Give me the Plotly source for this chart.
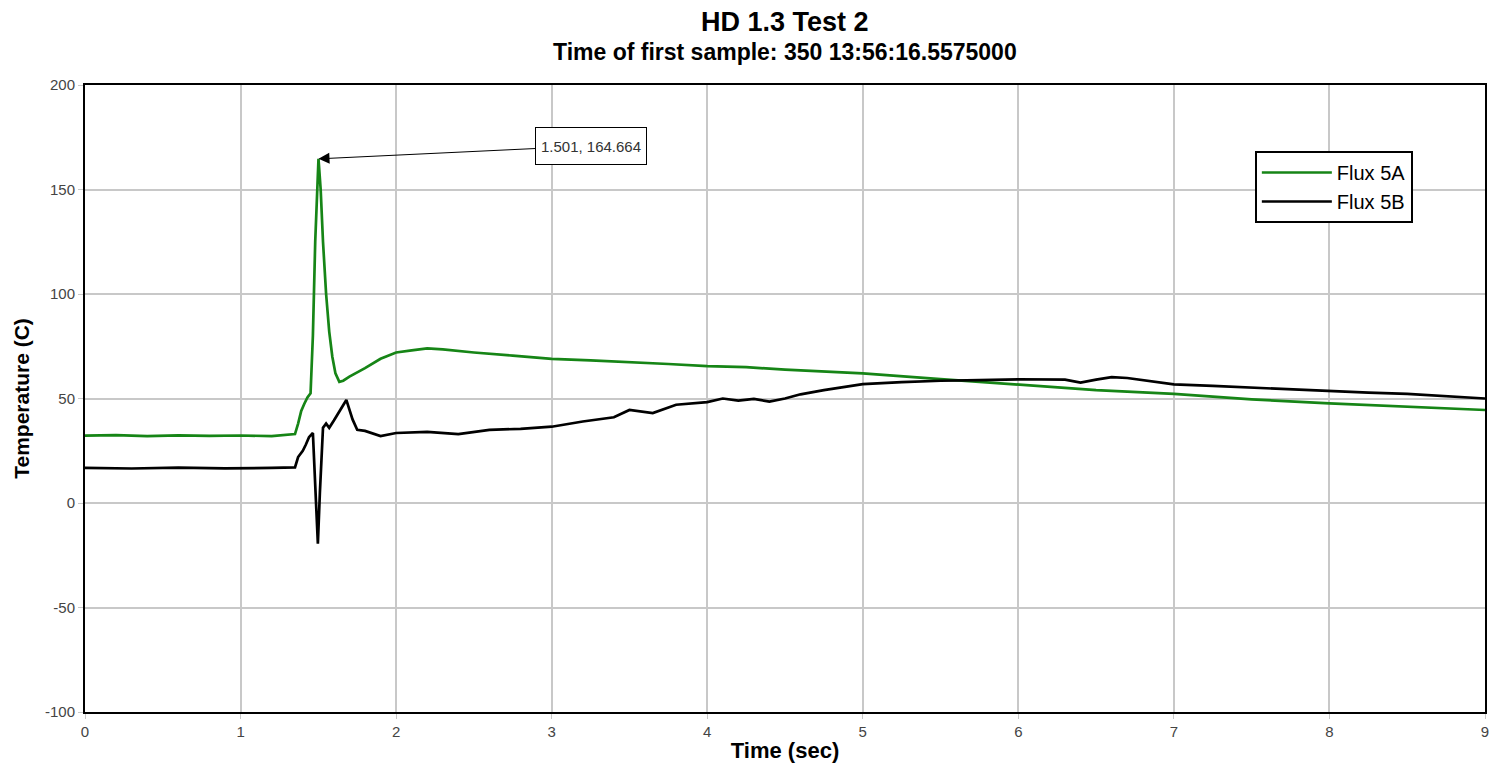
import plotly.graph_objects as go

# Flux 5A readings (time in sec, temperature in C)
time_5a = [0.0, 0.2, 0.4, 0.6, 0.8, 1.0, 1.2, 1.35, 1.37, 1.39, 1.41, 1.43, 1.45,
           1.465, 1.48, 1.501, 1.515, 1.53, 1.55, 1.57, 1.59, 1.61, 1.635, 1.66,
           1.70, 1.75, 1.8, 1.9, 2.0, 2.1, 2.2, 2.3, 2.5, 2.75, 3.0, 3.25, 3.5,
           3.75, 4.0, 4.25, 4.5, 5.0, 5.5, 6.0, 6.5, 7.0, 7.5, 8.0, 8.5, 9.0]
temp_5a = [32.2, 32.5, 32.0, 32.4, 32.1, 32.3, 32.0, 33.0, 38.0, 44.0, 47.5, 50.5, 52.5,
           80.0, 125.0, 164.664, 150.0, 125.0, 100.0, 82.0, 70.0, 62.0, 58.0, 58.5,
           60.5, 62.5, 64.5, 69.0, 72.0, 73.0, 74.0, 73.5, 72.0, 70.5, 69.0, 68.2, 67.5,
           66.5, 65.5, 65.0, 63.8, 62.0, 59.3, 56.5, 54.0, 52.2, 49.6, 47.7, 46.1, 44.5]

# Flux 5B readings
time_5b = [0.0, 0.3, 0.6, 0.9, 1.2, 1.35, 1.37, 1.40, 1.42, 1.44, 1.465, 1.48, 1.497,
           1.51, 1.53, 1.55, 1.57, 1.60, 1.63, 1.68, 1.72, 1.75, 1.8, 1.9, 2.0, 2.2,
           2.4, 2.6, 2.8, 3.0, 3.2, 3.4, 3.5, 3.65, 3.8, 4.0, 4.1, 4.2, 4.3, 4.4, 4.5,
           4.6, 4.75, 5.0, 5.25, 5.5, 5.75, 6.0, 6.3, 6.4, 6.5, 6.6, 6.7, 6.85, 7.0,
           7.25, 7.5, 7.75, 8.0, 8.25, 8.5, 8.75, 9.0]
temp_5b = [16.8, 16.5, 16.9, 16.6, 16.8, 17.0, 22.0, 25.0, 28.0, 31.5, 33.5, 10.0, -19.5,
           5.0, 36.0, 38.0, 36.0, 39.5, 43.0, 49.3, 40.0, 35.0, 34.5, 32.0, 33.5, 34.0,
           33.0, 35.0, 35.5, 36.5, 39.0, 41.0, 44.5, 43.0, 47.0, 48.3, 50.0, 49.0, 49.8, 48.5, 50.0,
           52.0, 54.0, 56.9, 57.8, 58.5, 58.8, 59.2, 59.0, 57.6, 59.0, 60.2, 59.8, 58.3, 56.8,
           56.0, 55.2, 54.3, 53.3, 52.8, 52.2, 51.2, 50.0]

# Marked peak
peak_t = 1.501
peak_v = 164.664

x_ticks = [0, 1, 2, 3, 4, 5, 6, 7, 8, 9]
y_ticks = [-100, -50, 0, 50, 100, 150, 200]
y_labels = ["-100", "-50", "0", "50", "100", "150", "200"]

font = "Liberation Sans, Arial, sans-serif"

fig = go.Figure()
fig.add_trace(go.Scatter(x=time_5a, y=temp_5a, mode="lines", name="Flux 5A",
                         line=dict(color="#168516", width=2.7)))
fig.add_trace(go.Scatter(x=time_5b, y=temp_5b, mode="lines", name="Flux 5B",
                         line=dict(color="black", width=2.7)))

axis_common = dict(showgrid=True, gridcolor="#c8c8c8", gridwidth=2,
                   showline=True, linecolor="black", linewidth=2, mirror=True,
                   ticks="outside", ticklen=5, tickcolor="#c8c8c8", zeroline=False,
                   tickfont=dict(family=font, size=15, color="#444"))

fig.update_xaxes(range=[0, 9], tickvals=x_ticks, **axis_common,
                 title=dict(text="<b>Time (sec)</b>", font=dict(family=font, size=22, color="black"),
                            standoff=4))
fig.update_yaxes(range=[-100, 200], tickvals=y_ticks, ticktext=y_labels, **axis_common,
                 title=dict(text="<b>Temperature (C)</b>", font=dict(family=font, size=21, color="black"),
                            standoff=10))

# Titles
fig.add_annotation(text="<b>HD 1.3 Test 2</b>", xref="paper", yref="paper", x=0.5, y=1,
                   xanchor="center", yanchor="bottom", yshift=46, showarrow=False,
                   font=dict(family=font, size=27, color="black"))
fig.add_annotation(text="<b>Time of first sample: 350 13:56:16.5575000</b>", xref="paper", yref="paper",
                   x=0.5, y=1, xanchor="center", yanchor="bottom", yshift=18, showarrow=False,
                   font=dict(family=font, size=23, color="black"))

# Peak callout
fig.add_annotation(x=peak_t, y=peak_v, text=f"{peak_t}, {peak_v}", showarrow=True,
                   ax=273, ay=-13, arrowhead=2, arrowsize=2.2, arrowwidth=1, arrowcolor="black",
                   width=104, height=30, borderpad=3,
                   bordercolor="black", borderwidth=1, bgcolor="white",
                   font=dict(family=font, size=15, color="#333"))

# page body has an 8px margin, so the figure is sized/offset to land on the same pixels
fig.update_layout(width=1493, height=765,
                  margin=dict(l=75, r=13, t=77, b=61),
                  plot_bgcolor="white", paper_bgcolor="white",
                  showlegend=True,
                  legend=dict(x=0.8356, y=0.8947, xanchor="left", yanchor="top",
                              bordercolor="black", borderwidth=2, bgcolor="white",
                              itemwidth=70,
                              font=dict(family=font, size=20, color="black"),
                              tracegroupgap=0))

fig.write_html("out.html")
